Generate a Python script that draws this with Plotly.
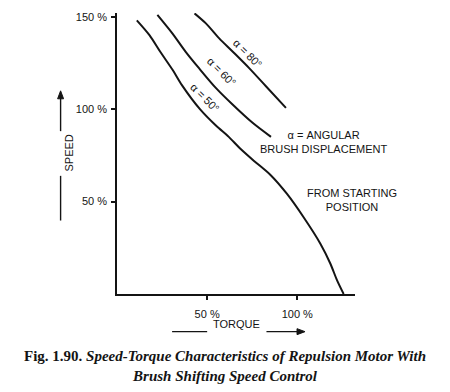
import plotly.graph_objects as go

# Data (torque %, speed %)
torque_50 = [11, 18, 24, 31, 36, 46, 55, 62, 68, 76, 85, 94.3, 103.5, 112.8, 118.3, 122, 125.7]
speed_50 = [148, 140, 131, 121, 113, 100, 91, 85, 79, 72, 64.5, 54.1, 41.5, 27.2, 16.5, 7.5, 0]

torque_60 = [22.4, 30.7, 38.1, 45.6, 54.8, 64.1, 75.2, 85.4]
speed_60 = [151, 141, 131, 122, 111.5, 102.5, 92.6, 85]

torque_80 = [43, 49.3, 56.7, 64.1, 73.3, 82.6, 93.7]
speed_80 = [151.8, 146.4, 138.3, 131.2, 122.2, 112.4, 100.7]

x_tick_vals = [50, 100]
x_tick_text = ["50 %", "100 %"]
y_tick_vals = [50, 100, 150]
y_tick_text = ["50 %", "100 %", "150 %"]

curve_labels = ["α = 50°", "α = 60°", "α = 80°"]

SANS = "Liberation Sans, Arial, sans-serif"
SERIF = "Liberation Serif, Times New Roman, serif"
INK = "#141414"

fig = go.Figure()
for tx, sy in [(torque_50, speed_50), (torque_60, speed_60), (torque_80, speed_80)]:
    fig.add_trace(go.Scatter(x=tx, y=sy, mode="lines",
                             line=dict(color=INK, width=2, shape="spline", smoothing=0.8),
                             showlegend=False, hoverinfo="skip", cliponaxis=False))

axis_common = dict(showline=True, linecolor=INK, linewidth=1.6, ticks="outside",
                   ticklen=4, tickwidth=1.6, tickcolor=INK, showgrid=False, zeroline=False,
                   tickfont=dict(family=SANS, size=11, color=INK))

fig.update_xaxes(range=[0, 132], tickvals=x_tick_vals, ticktext=x_tick_text,
                 ticklabelstandoff=5, **axis_common)
fig.update_yaxes(range=[0, 152], tickvals=y_tick_vals, ticktext=y_tick_text,
                 ticklabelstandoff=2, **axis_common)

ann_font = dict(family=SANS, size=11, color=INK)
annotations = [
    dict(x=48.9, y=106, text=curve_labels[0], textangle=45),
    dict(x=58.2, y=120.3, text=curve_labels[1], textangle=45),
    dict(x=72.8, y=130, text=curve_labels[2], textangle=45),
    dict(x=114.4, y=82, text="α = ANGULAR<br>BRUSH DISPLACEMENT"),
    dict(x=130.6, y=50.8, text="FROM STARTING<br>POSITION"),
]
for a in annotations:
    fig.add_annotation(xref="x", yref="y", showarrow=False, font=ann_font, **a)

arrow_line = dict(color=INK, width=1.4)
head = dict(color=INK, width=1)

# SPEED axis title with arrow
sx = -0.237
fig.add_annotation(xref="paper", yref="paper", x=sx, y=0.502, text="SPEED",
                   textangle=-90, showarrow=False, font=ann_font)
fig.add_shape(type="line", xref="paper", yref="paper", x0=sx, x1=sx,
              y0=0.5795, y1=0.70, line=arrow_line)
fig.add_shape(type="path", xref="paper", yref="paper",
              path=f"M {sx} 0.723 L {sx - 0.0126} 0.6947 L {sx + 0.0126} 0.6947 Z",
              fillcolor=INK, line=head)
fig.add_shape(type="line", xref="paper", yref="paper", x0=sx, x1=sx,
              y0=0.4205, y1=0.2615, line=arrow_line)

# TORQUE axis title with arrow
ty = -0.134
fig.add_annotation(xref="paper", yref="paper", x=0.5008, y=ty, text="TORQUE",
                   showarrow=False, font=ann_font)
fig.add_shape(type="line", xref="paper", yref="paper", x0=0.2315, x1=0.3788,
              y0=ty, y1=ty, line=arrow_line)
fig.add_shape(type="line", xref="paper", yref="paper", x0=0.628, x1=0.765,
              y0=ty, y1=ty, line=arrow_line)
fig.add_shape(type="path", xref="paper", yref="paper",
              path=f"M 0.79 {ty} L 0.7564 {ty + 0.0106} L 0.7564 {ty - 0.0106} Z",
              fillcolor=INK, line=head)

# Caption
fig.add_annotation(xref="paper", yref="paper", x=0.4545, y=-0.258, yanchor="middle",
                   showarrow=False, align="center",
                   text="<b>Fig. 1.90.</b> <b><i>Speed-Torque Characteristics of Repulsion Motor With</i></b>"
                        "<br><b><i>Brush Shifting Speed Control</i></b>",
                   font=dict(family=SERIF, size=15, color=INK))

# The page body adds an 8px offset, so the figure is 8px smaller and margins shifted
fig.update_layout(width=442, height=384, margin=dict(l=109, r=95, t=3, b=98),
                  paper_bgcolor="white", plot_bgcolor="white")

fig.write_html("out.html")
